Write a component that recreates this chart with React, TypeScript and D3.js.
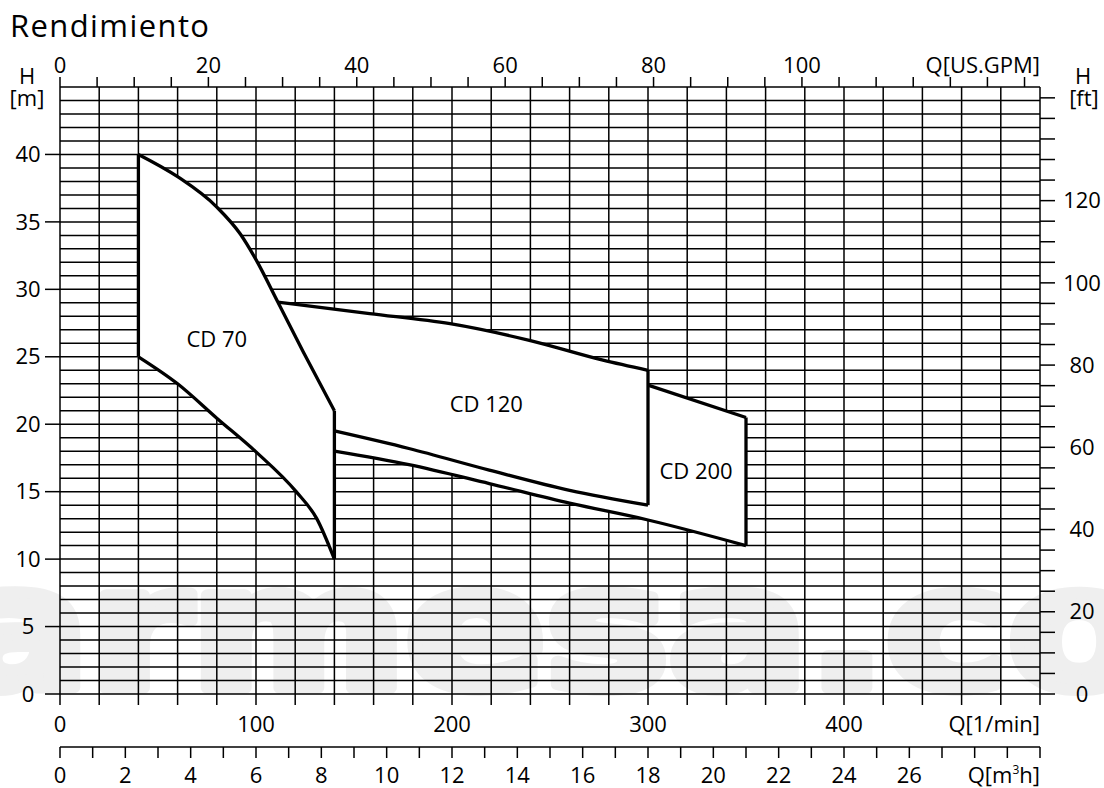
import * as d3 from "d3";
import { FC, useEffect, useRef } from "react";

const WIDTH = 1104;
const HEIGHT = 788;

// conversiones de unidades
const L_PER_GPM = 3.785411784;
const M_PER_FT = 0.3048;

// etiquetas de los ejes
const flowLabels = [0, 100, 200, 300, 400]; // l/min
const gpmLabels = [0, 20, 40, 60, 80, 100];
const m3hLabels = [0, 2, 4, 6, 8, 10, 12, 14, 16, 18, 20, 22, 24, 26];
const headLabels = [0, 5, 10, 15, 20, 25, 30, 35, 40]; // m
const ftLabels = [0, 20, 40, 60, 80, 100, 120];

// curvas [Q l/min, H m]
const cd70Upper: [number, number][] = [
  [40, 40], [60, 38.35], [80, 36.1], [92, 34.1], [100, 32.2], [111, 29.1], [124, 25.4], [140, 21],
];
const cd70Lower: [number, number][] = [
  [40, 25], [60, 23.0], [80, 20.45], [100, 17.95], [120.5, 15.0], [131, 13.0], [140, 10],
];
const cd120Upper: [number, number][] = [
  [111, 29.05], [158, 28.2], [199, 27.45], [240, 26.2], [277, 24.75], [300, 24],
];
const cd120Lower: [number, number][] = [
  [140, 19.5], [178, 18.2], [219, 16.6], [260, 15.1], [300, 14],
];
const cd200Upper: [number, number][] = [
  [300, 22.9], [350, 20.5],
];
const cd200Lower: [number, number][] = [
  [140, 18], [178, 17.0], [219, 15.6], [260, 14.15], [300, 12.9], [350, 11],
];
// bordes verticales [Q, H desde, H hasta]
const edges: [number, number, number][] = [
  [40, 25, 40], [140, 10, 21], [300, 14, 24], [350, 11, 20.5],
];
const modelLabels = [
  { name: "CD 70", q: 80, h: 26.3 },
  { name: "CD 120", q: 217.5, h: 21.5 },
  { name: "CD 200", q: 324.5, h: 16.5 },
];

const App: FC = () => {
  const svgRef = useRef<SVGSVGElement | null>(null);

  useEffect(() => {
    if (!svgRef.current) return;
    const svg = d3.select(svgRef.current);
    svg.selectAll("*").remove();
    const font = "'Open Sans', sans-serif";

    const x = d3.scaleLinear().domain([0, 500]).range([60, 1040]);
    const y = d3.scaleLinear().domain([0, 45]).range([694, 87]);
    const xGpm = d3.scaleLinear().domain([0, 500 / L_PER_GPM]).range([60, 1040]);
    const xM3h = d3.scaleLinear().domain([0, 30]).range([60, 1040]);
    const yFt = d3.scaleLinear().domain([0, 45 / M_PER_FT]).range([694, 87]);

    // marca de agua
    svg
      .append("text")
      .attr("x", -50)
      .attr("y", 688)
      .attr("font-family", "'DejaVu Sans', sans-serif")
      .attr("font-weight", 700)
      .attr("font-size", 170)
      .attr("fill", "#efefef")
      .attr("stroke", "#efefef")
      .attr("stroke-width", 12)
      .attr("stroke-linejoin", "round")
      .attr("textLength", 1200)
      .attr("lengthAdjust", "spacingAndGlyphs")
      .text("armesa.co");

    // título
    svg
      .append("text")
      .attr("x", 10)
      .attr("y", 37)
      .attr("font-family", font)
      .attr("font-size", 31)
      .attr("letter-spacing", 1.4)
      .text("Rendimiento");

    const grid = svg.append("g").attr("stroke", "#000").attr("stroke-width", 1.5);

    // líneas horizontales cada 1 m
    grid
      .selectAll(".h")
      .data(d3.range(0, 46))
      .enter()
      .append("line")
      .attr("x1", x(0))
      .attr("x2", x(500))
      .attr("y1", (d) => y(d))
      .attr("y2", (d) => y(d));

    // líneas verticales cada 20 l/min (con marca abajo)
    grid
      .selectAll(".v")
      .data(d3.range(0, 501, 20))
      .enter()
      .append("line")
      .attr("x1", (d) => x(d))
      .attr("x2", (d) => x(d))
      .attr("y1", y(45))
      .attr("y2", y(0) + 11);

    // marcas eje izquierdo
    grid
      .selectAll(".lt")
      .data(headLabels)
      .enter()
      .append("line")
      .attr("x1", x(0) - 15)
      .attr("x2", x(0))
      .attr("y1", (d) => y(d))
      .attr("y2", (d) => y(d));

    // marcas eje derecho (ft)
    grid
      .selectAll(".rt")
      .data(d3.range(0, 146, 5))
      .enter()
      .append("line")
      .attr("x1", x(500))
      .attr("x2", x(500) + 15)
      .attr("y1", (d) => yFt(d))
      .attr("y2", (d) => yFt(d));

    // marcas eje superior (GPM)
    grid
      .selectAll(".tt")
      .data(d3.range(0, 131, 5))
      .enter()
      .append("line")
      .attr("x1", (d) => xGpm(d))
      .attr("x2", (d) => xGpm(d))
      .attr("y1", y(45) - 10)
      .attr("y2", y(45));

    // eje m3/h
    const m3hY = 747;
    grid
      .append("line")
      .attr("x1", xM3h(0))
      .attr("x2", xM3h(30))
      .attr("y1", m3hY)
      .attr("y2", m3hY);
    grid
      .selectAll(".mt")
      .data(d3.range(0, 31))
      .enter()
      .append("line")
      .attr("x1", (d) => xM3h(d))
      .attr("x2", (d) => xM3h(d))
      .attr("y1", m3hY)
      .attr("y2", m3hY + 11);

    // zonas blancas
    const line = d3
      .line<[number, number]>()
      .x((d) => x(d[0]))
      .y((d) => y(d[1]))
      .curve(d3.curveMonotoneX);
    const seg = (pts: [number, number][], first = false) => {
      const s = line(pts) ?? "";
      return first ? s : s.replace(/^M/, "L");
    };
    const rev = (pts: [number, number][]) => pts.slice().reverse();

    const fills = svg.append("g").attr("fill", "#fff").attr("stroke", "none");
    fills.append("path").attr("d", seg(cd70Upper, true) + seg(rev(cd70Lower)) + "Z");
    fills
      .append("path")
      .attr(
        "d",
        seg(cd120Upper, true) +
          seg(cd200Upper) +
          seg(rev(cd200Lower)) +
          seg(rev(cd70Upper.filter((p) => p[0] >= 111))) +
          "Z"
      );

    // curvas
    const curves = svg
      .append("g")
      .attr("fill", "none")
      .attr("stroke", "#000")
      .attr("stroke-width", 3.3)
      .attr("stroke-linejoin", "miter");
    [cd70Upper, cd70Lower, cd120Upper, cd120Lower, cd200Upper, cd200Lower].forEach((c) =>
      curves.append("path").attr("d", line(c))
    );
    curves
      .selectAll(".edge")
      .data(edges)
      .enter()
      .append("line")
      .attr("x1", (d) => x(d[0]))
      .attr("x2", (d) => x(d[0]))
      .attr("y1", (d) => y(d[1]))
      .attr("y2", (d) => y(d[2]));

    // textos
    const txt = svg.append("g").attr("font-family", font).attr("font-size", 22).attr("fill", "#000");

    txt
      .selectAll(".ml")
      .data(modelLabels)
      .enter()
      .append("text")
      .attr("x", (d) => x(d.q))
      .attr("y", (d) => y(d.h))
      .attr("dy", "0.35em")
      .attr("text-anchor", "middle")
      .text((d) => d.name);

    txt
      .selectAll(".gl")
      .data(gpmLabels)
      .enter()
      .append("text")
      .attr("x", (d) => xGpm(d))
      .attr("y", 73)
      .attr("text-anchor", "middle")
      .text((d) => d);
    txt.append("text").attr("x", x(500)).attr("y", 73).attr("text-anchor", "end").text("Q[US.GPM]");

    txt
      .selectAll(".fl")
      .data(flowLabels)
      .enter()
      .append("text")
      .attr("x", (d) => x(d))
      .attr("y", 732)
      .attr("text-anchor", "middle")
      .text((d) => d);
    txt.append("text").attr("x", x(500)).attr("y", 732).attr("text-anchor", "end").text("Q[1/min]");

    txt
      .selectAll(".cl")
      .data(m3hLabels)
      .enter()
      .append("text")
      .attr("x", (d) => xM3h(d))
      .attr("y", 783)
      .attr("text-anchor", "middle")
      .text((d) => d);
    const qm = txt.append("text").attr("x", xM3h(30)).attr("y", 783).attr("text-anchor", "end");
    qm.append("tspan").text("Q[m");
    qm.append("tspan").attr("font-size", 12).attr("dy", -9).text("3");
    qm.append("tspan").attr("dy", 9).text("h]");

    txt
      .selectAll(".hl")
      .data(headLabels)
      .enter()
      .append("text")
      .attr("x", 28)
      .attr("y", (d) => y(d))
      .attr("dy", "0.35em")
      .attr("text-anchor", "middle")
      .text((d) => d);
    txt.append("text").attr("x", 27).attr("y", 84).attr("text-anchor", "middle").text("H");
    txt.append("text").attr("x", 27).attr("y", 106).attr("text-anchor", "middle").text("[m]");

    txt
      .selectAll(".ftl")
      .data(ftLabels)
      .enter()
      .append("text")
      .attr("x", 1082)
      .attr("y", (d) => yFt(d))
      .attr("dy", "0.35em")
      .attr("text-anchor", "middle")
      .text((d) => d);
    txt.append("text").attr("x", 1083).attr("y", 84).attr("text-anchor", "middle").text("H");
    txt.append("text").attr("x", 1084).attr("y", 106).attr("text-anchor", "middle").text("[ft]");
  }, []);

  return (
    <svg
      ref={svgRef}
      width={WIDTH}
      height={HEIGHT}
      style={{ position: "absolute", left: 0, top: 0, background: "#fff" }}
    />
  );
};

export default App;
